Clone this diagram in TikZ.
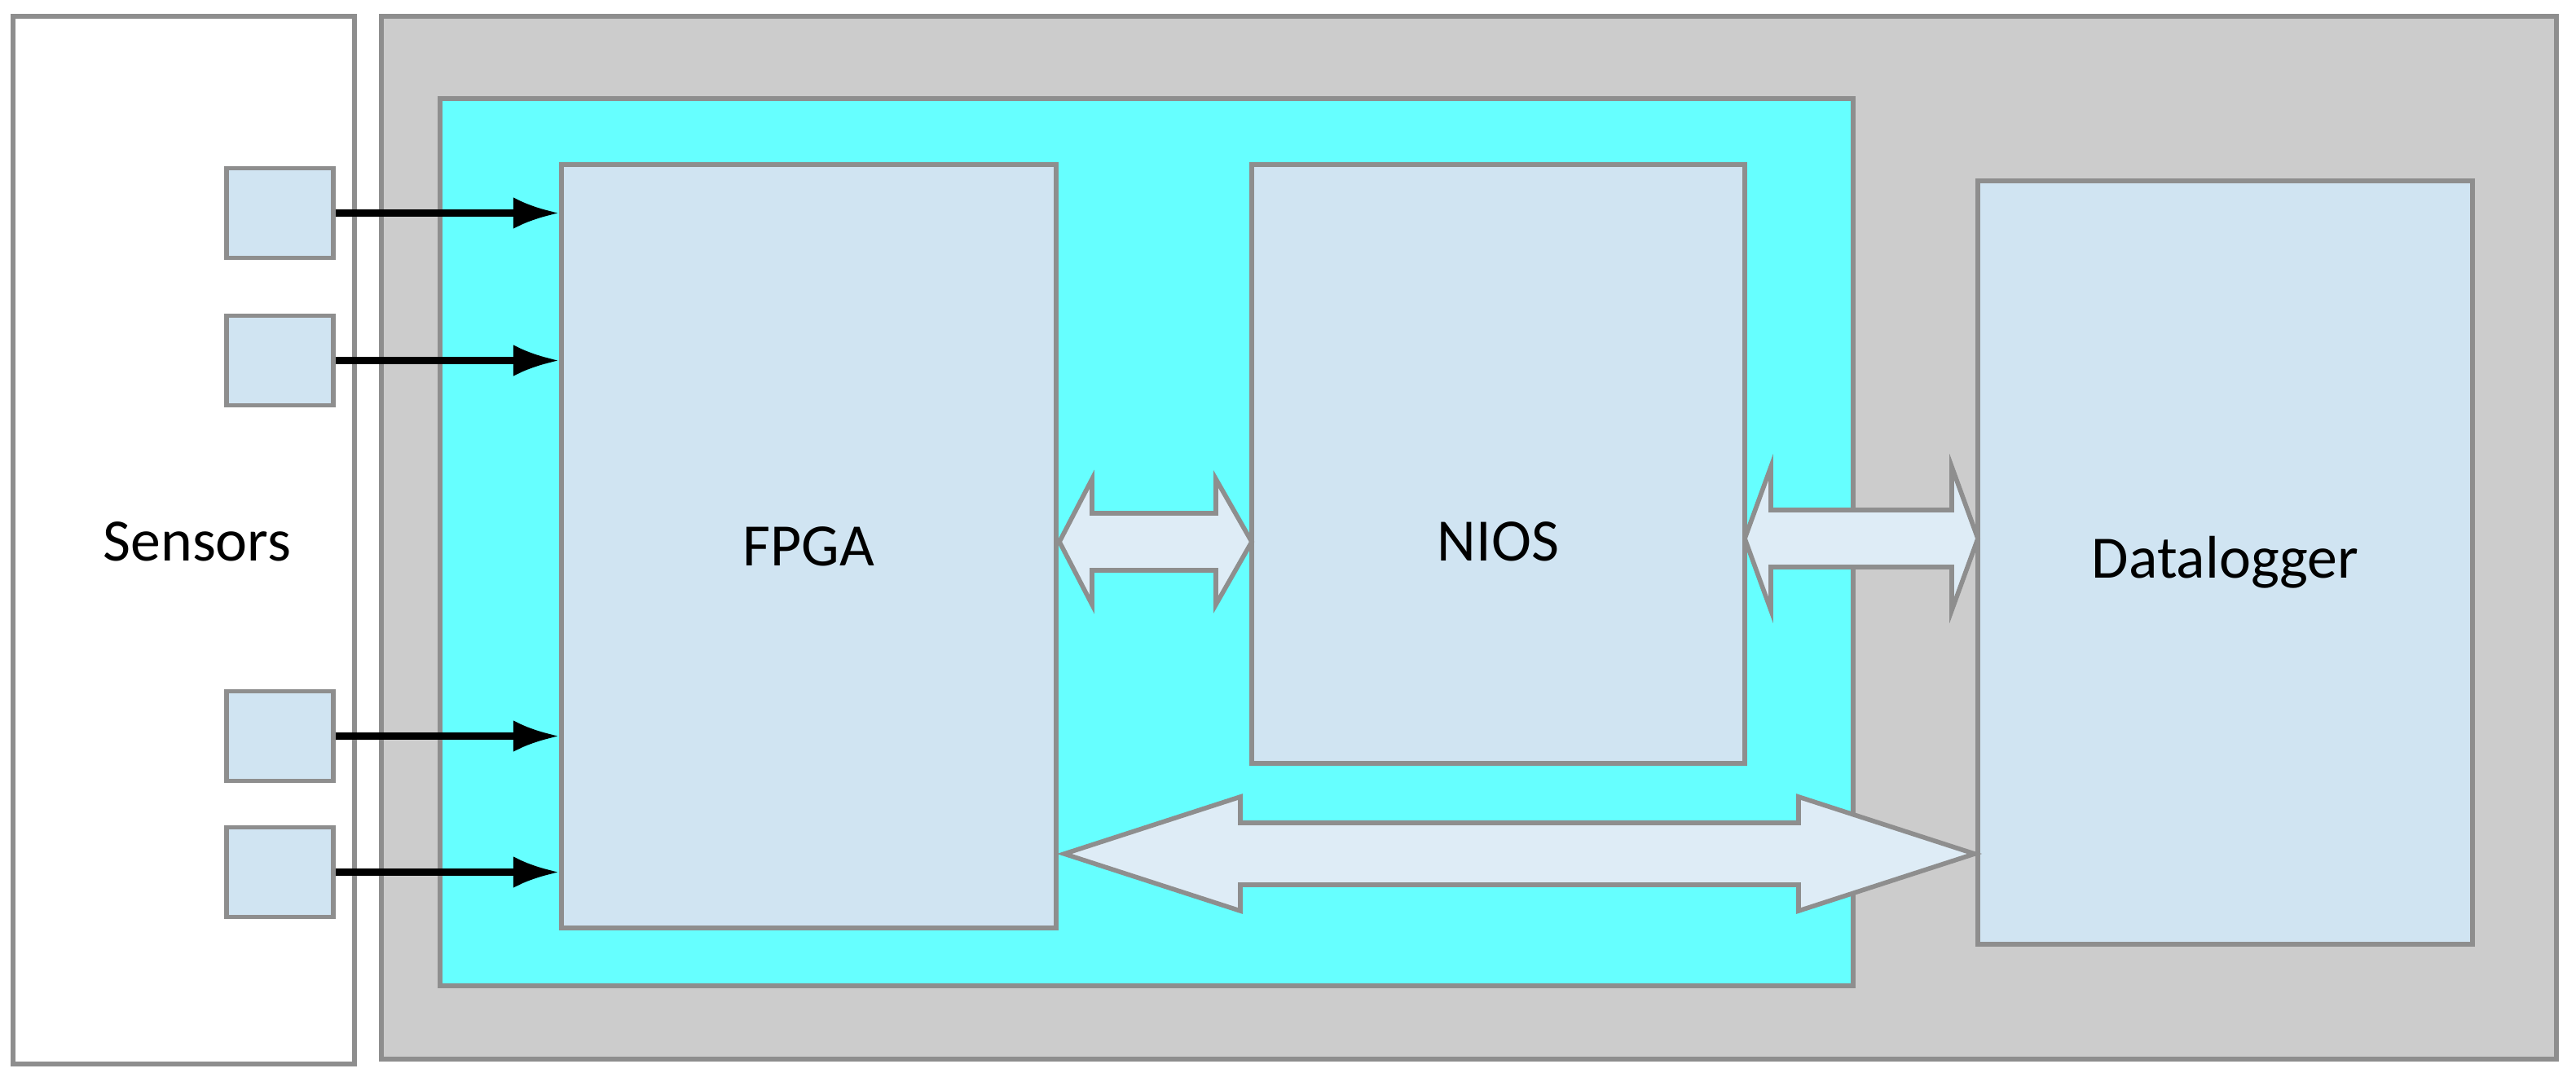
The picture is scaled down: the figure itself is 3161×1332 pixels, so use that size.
\documentclass[tikz,border=0pt]{standalone}
\usepackage{fontspec}
\setmainfont{Carlito}
\usetikzlibrary{arrows.meta}
\definecolor{boxfill}{HTML}{D0E4F2}
\definecolor{bord}{HTML}{8E8E8E}
\definecolor{cyanbg}{HTML}{66FFFF}
\definecolor{graybg}{HTML}{CCCCCC}
\tikzset{
 blk/.style={draw=bord,line width=1.6pt,fill=boxfill,inner sep=0pt},
 sq/.style={blk,minimum width=131*0.01cm,minimum height=110*0.01cm},
 lbl/.style={font=\fontsize{21}{24}\selectfont},
 sig/.style={line width=2.3pt,-{Latex[length=16pt,width=11pt]}},
 dbl/.style={draw=bord,line width=1.6pt,fill=boxfill!70!white}
}
\begin{document}
\begin{tikzpicture}[x=0.01cm,y=-0.01cm]
\useasboundingbox (0,0) rectangle (3161,1332);
\fill[white] (0,0) rectangle (3161,1332);
\draw[draw=bord,line width=1.6pt,fill=white] (16,20) rectangle (435,1306);
\node[lbl] (sens) at (242,665) {Sensors};
\draw[draw=bord,line width=1.6pt,fill=graybg] (468,20) rectangle (3137,1300);
\draw[draw=bord,line width=1.6pt,fill=cyanbg] (540,121) rectangle (2274,1210);
\node[blk,minimum width=607*0.01cm,minimum height=937*0.01cm,lbl] (fpga) at (992.5,670.5) {FPGA};
\node[blk,minimum width=605*0.01cm,minimum height=735*0.01cm] (nios) at (1838.5,569.5) {};
\node[lbl] at (1838.5,665) {NIOS};
\node[blk,minimum width=607*0.01cm,minimum height=937*0.01cm,lbl] (dl) at (2730.5,690.5) {Datalogger};
\node[sq] (s1) at (343.5,261.5) {};
\node[sq] (s2) at (343.5,442.5) {};
\node[sq] (s3) at (343.5,903.5) {};
\node[sq] (s4) at (343.5,1070.5) {};
\foreach \s in {s1,s2,s3,s4} \draw[sig] (\s.east) -- (\s.east -| fpga.west);
% double arrows
\draw[dbl] (1300,665) -- (1340,588) -- (1340,630) -- (1492,630) -- (1492,588) -- (1536,665)
  -- (1492,742) -- (1492,700) -- (1340,700) -- (1340,742) -- cycle;
\draw[dbl] (2141,661) -- (2173,573) -- (2173,626) -- (2395,626) -- (2395,573) -- (2427,661)
  -- (2395,749) -- (2395,696) -- (2173,696) -- (2173,749) -- cycle;
\draw[dbl] (1306,1048) -- (1522,978) -- (1522,1010) -- (2207,1010) -- (2207,978) -- (2423,1048)
  -- (2207,1118) -- (2207,1086) -- (1522,1086) -- (1522,1118) -- cycle;
\end{tikzpicture}
\end{document}
